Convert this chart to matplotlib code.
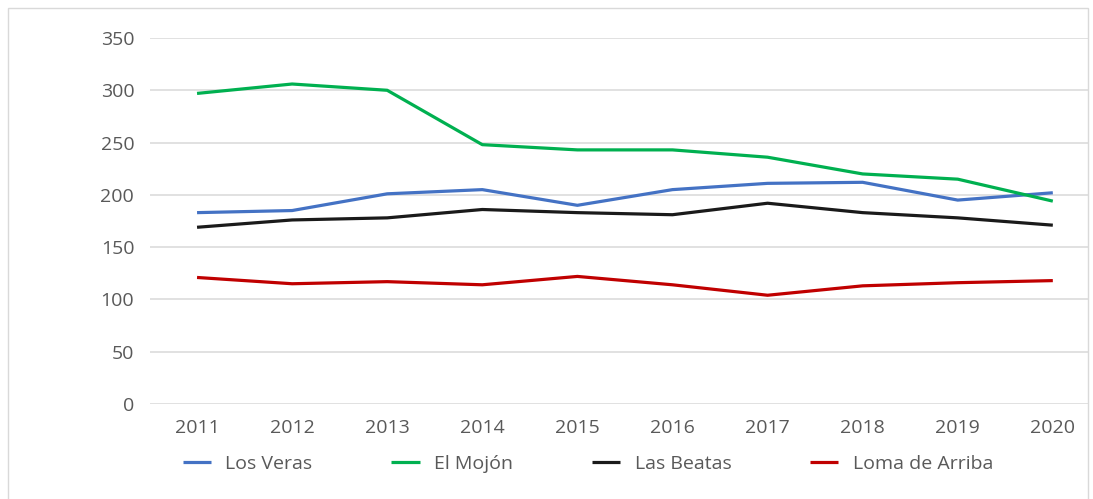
import matplotlib.pyplot as plt
from matplotlib.patches import Rectangle

years = ["2011", "2012", "2013", "2014", "2015", "2016", "2017", "2018", "2019", "2020"]
los_veras = [183, 185, 201, 205, 190, 205, 211, 212, 195, 202]
el_mojon = [297, 306, 300, 248, 243, 243, 236, 220, 215, 194]
las_beatas = [169, 176, 178, 186, 183, 181, 192, 183, 178, 171]
loma_de_arriba = [121, 115, 117, 114, 122, 114, 104, 113, 116, 118]

series = [
    ("Los Veras", los_veras, "#4472C4"),
    ("El Mojón", el_mojon, "#00B050"),
    ("Las Beatas", las_beatas, "#1A1A1A"),
    ("Loma de Arriba", loma_de_arriba, "#C00000"),
]

plt.rcParams['font.family'] = ['Open Sans', 'DejaVu Sans']

fig = plt.figure(figsize=(10.93, 4.99), dpi=100)
ax = fig.add_axes([149.5 / 1093, 95 / 499, 938.5 / 1093, 366 / 499])

x = list(range(len(years)))
for name, vals, col in series:
    ax.plot(x, vals, color=col, linewidth=2.3, label=name, solid_capstyle='butt')

ax.set_xlim(-0.5, 9.37)
ax.set_ylim(0, 350)
ax.set_yticks(range(0, 351, 50))
ax.set_xticks(x)
ax.set_xticklabels(years)
ax.grid(axis='y', color='#D9D9D9', linewidth=1.1)
ax.set_axisbelow(True)
for s in ax.spines.values():
    s.set_visible(False)
ax.tick_params(length=0, labelsize=14, labelcolor='#595959')
ax.tick_params(axis='y', pad=11)
ax.tick_params(axis='x', pad=11)

fig.legend(loc='center', bbox_to_anchor=(588 / 1093, 1 - 464 / 499), ncol=4,
           frameon=False, fontsize=14, labelcolor='#595959', handlelength=1.45,
           columnspacing=4.05, handletextpad=0.75)

# chart border
fig.patches.append(Rectangle((8 / 1093, -0.1), 1080 / 1093, 1.1 - 8 / 499,
                             transform=fig.transFigure, fill=False,
                             edgecolor='#D9D9D9', linewidth=1))

fig.savefig("out.png", dpi=100)
